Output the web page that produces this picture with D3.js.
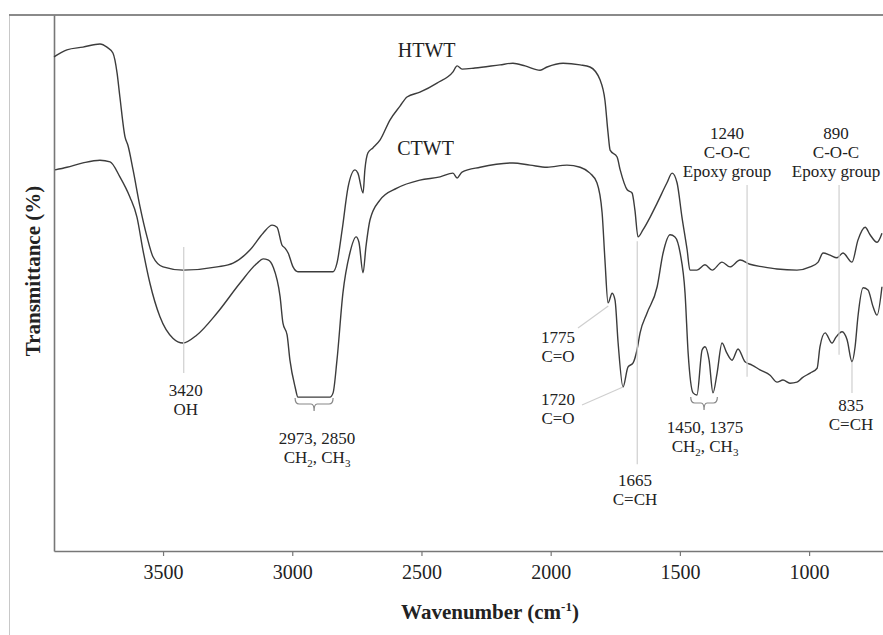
<!DOCTYPE html>
<html>
<head>
<meta charset="utf-8">
<script src="https://cdn.jsdelivr.net/npm/d3@7"></script>
<style>
  body { margin: 0; background: #fff; }
  text { font-family: "Liberation Serif", "Times New Roman", serif; fill: #222; }
</style>
</head>
<body>
<div id="chart"></div>
<script>
// spectra: [wavenumber (cm-1), transmittance (arbitrary %)]
var htwt = [
  [3922, 92.2], [3872, 93.5], [3810, 94.0], [3744, 94.6], [3717, 94.0], [3694, 92.9],
  [3678, 89.2], [3667, 84.7], [3647, 77.2], [3636, 75.7], [3616, 71.1], [3589, 64.2],
  [3562, 58.6], [3539, 54.9], [3500, 53.0], [3423, 52.4], [3291, 53.0], [3229, 53.7],
  [3163, 56.2], [3113, 59.3], [3078, 60.8], [3059, 60.4], [3040, 57.1], [3028, 56.5],
  [3016, 55.6], [2997, 53.0], [2978, 52.1], [2842, 52.1], [2827, 53.7], [2807, 59.9],
  [2784, 67.9], [2757, 71.1], [2746, 70.5], [2726, 66.8], [2719, 71.1], [2707, 74.3],
  [2688, 75.2], [2660, 76.7], [2622, 80.4], [2583, 83.0], [2556, 84.7], [2506, 85.6],
  [2440, 87.3], [2378, 89.4], [2362, 90.5], [2343, 89.9], [2293, 90.1], [2196, 90.7],
  [2146, 91.0], [2099, 90.5], [2041, 89.7], [2014, 90.3], [1952, 91.0], [1886, 90.7],
  [1848, 90.3], [1809, 87.9], [1790, 84.1], [1778, 78.0], [1770, 74.8], [1743, 73.5],
  [1731, 71.1], [1704, 67.4], [1685, 66.8], [1674, 63.6], [1662, 58.6], [1643, 59.9],
  [1615, 62.3], [1588, 64.9], [1550, 68.7], [1530, 70.5], [1511, 68.7], [1492, 62.3],
  [1472, 56.2], [1461, 52.4], [1434, 52.4], [1403, 53.4], [1375, 52.4], [1337, 53.9],
  [1306, 53.0], [1267, 54.3], [1229, 53.5], [1178, 53.0], [1124, 52.6], [1047, 52.4],
  [996, 53.0], [965, 53.9], [946, 55.6], [919, 55.2], [892, 54.7], [869, 55.6],
  [834, 53.9], [811, 58.0], [783, 60.4], [764, 59.0], [737, 57.6], [718, 59.3]
];

var ctwt = [
  [3918, 71.1], [3872, 71.6], [3810, 72.4], [3744, 72.9], [3705, 72.6], [3667, 69.8],
  [3628, 66.0], [3601, 62.3], [3578, 56.2], [3551, 50.0], [3512, 43.7], [3462, 39.7],
  [3423, 38.8], [3369, 40.3], [3291, 44.4], [3202, 50.0], [3136, 53.7], [3113, 54.5],
  [3094, 54.3], [3074, 53.0], [3047, 47.4], [3036, 42.5], [3020, 40.3], [3009, 35.6],
  [2989, 30.6], [2978, 28.7], [2893, 28.7], [2854, 28.7], [2842, 29.5], [2827, 35.6],
  [2804, 48.1], [2777, 55.6], [2753, 58.6], [2742, 57.6], [2726, 51.9], [2715, 56.7],
  [2699, 61.8], [2660, 65.5], [2595, 67.7], [2506, 69.2], [2428, 69.8], [2378, 70.5],
  [2362, 69.6], [2343, 70.7], [2273, 71.6], [2146, 72.4], [2080, 72.0], [2014, 71.6],
  [1937, 72.0], [1886, 71.6], [1848, 70.5], [1821, 68.7], [1801, 63.1], [1790, 54.3],
  [1778, 46.3], [1762, 48.1], [1751, 46.8], [1739, 38.8], [1720, 30.6], [1701, 34.3],
  [1681, 35.1], [1666, 37.5], [1654, 40.7], [1627, 44.4], [1588, 49.3], [1565, 55.6],
  [1538, 59.0], [1519, 58.6], [1499, 55.6], [1480, 48.1], [1468, 36.9], [1449, 29.5],
  [1434, 29.1], [1414, 37.5], [1403, 38.1], [1387, 35.6], [1372, 29.5], [1356, 33.2],
  [1337, 38.8], [1318, 36.9], [1298, 35.6], [1275, 37.7], [1248, 35.3], [1221, 34.7],
  [1190, 33.8], [1151, 32.8], [1124, 31.5], [1101, 31.9], [1074, 31.3], [1047, 31.5],
  [1027, 32.3], [996, 33.2], [969, 34.1], [958, 38.1], [938, 40.7], [911, 38.8],
  [896, 39.9], [872, 40.9], [853, 39.4], [834, 35.3], [822, 38.1], [811, 43.7],
  [791, 49.1], [772, 48.7], [752, 45.5], [737, 44.0], [718, 49.3]
];

var xTicks = [3500, 3000, 2500, 2000, 1500, 1000];
var seriesNames = ['HTWT', 'CTWT'];

var W = 883, H = 635;
var mLeft = 54, mRight = 883, mTop = 15, mBottom = 551;

var svg = d3.select('#chart').append('svg')
  .attr('width', W)
  .attr('height', H);

var x = d3.scaleLinear().domain([3922, 714]).range([mLeft, mRight]);
var y = d3.scaleLinear().domain([0, 100]).range([mBottom, mTop]);

// outer frame bits
svg.append('line')
  .attr('x1', 9.5).attr('x2', 9.5).attr('y1', mTop).attr('y2', H)
  .attr('stroke', '#c8c8c8').attr('stroke-width', 1);
svg.append('line')
  .attr('x1', 9).attr('x2', W).attr('y1', mTop).attr('y2', mTop)
  .attr('stroke', '#8a8a8a').attr('stroke-width', 2);

// axes
var xAxis = svg.append('g')
  .attr('transform', 'translate(0,' + mBottom + ')')
  .call(d3.axisBottom(x).tickValues(xTicks).tickFormat(d3.format('d'))
    .tickSize(5).tickSizeOuter(0).tickPadding(9));
xAxis.select('.domain').attr('stroke', '#777').attr('stroke-width', 1.6);
xAxis.selectAll('.tick line').attr('stroke', '#777').attr('stroke-width', 1.2);
xAxis.selectAll('.tick text')
  .style('font-family', '"Liberation Serif", serif')
  .style('font-size', '20px')
  .attr('fill', '#222');

var yAxis = svg.append('g')
  .attr('transform', 'translate(' + mLeft + ',0)')
  .call(d3.axisLeft(y).tickValues([]).tickSizeOuter(0));
yAxis.select('.domain').attr('stroke', '#777').attr('stroke-width', 1.6);

// axis titles
var xt = svg.append('text')
  .attr('x', 490).attr('y', 619)
  .attr('text-anchor', 'middle')
  .style('font-size', '21px').style('font-weight', 'bold');
xt.append('tspan').text('Wavenumber (cm');
xt.append('tspan').attr('dy', -8).style('font-size', '13px').text('-1');
xt.append('tspan').attr('dy', 8).text(')');

svg.append('text')
  .attr('transform', 'translate(40,271) rotate(-90)')
  .attr('text-anchor', 'middle')
  .style('font-size', '21px').style('font-weight', 'bold')
  .text('Transmittance (%)');

// spectra
var line = d3.line()
  .x(function(d){ return x(d[0]); })
  .y(function(d){ return y(d[1]); })
  .curve(d3.curveMonotoneX);

[htwt, ctwt].forEach(function(s){
  svg.append('path')
    .datum(s)
    .attr('d', line)
    .attr('fill', 'none')
    .attr('stroke', '#3c3c3c')
    .attr('stroke-width', 1.4);
});

// series labels
svg.append('text').attr('x', x(2480)).attr('y', 57)
  .attr('text-anchor', 'middle').style('font-size', '20px').text(seriesNames[0]);
svg.append('text').attr('x', x(2484)).attr('y', 155)
  .attr('text-anchor', 'middle').style('font-size', '20px').text(seriesNames[1]);

// annotation helpers
var grey = '#cfcfcf';
function vline(wn, t1, t2) {
  svg.append('line')
    .attr('x1', x(wn)).attr('x2', x(wn))
    .attr('y1', y(t1)).attr('y2', y(t2))
    .attr('stroke', grey).attr('stroke-width', 1.2);
}
function label(cx, y0, lines) {
  lines.forEach(function(l, i){
    var t = svg.append('text')
      .attr('x', cx).attr('y', y0 + i * 19)
      .attr('text-anchor', 'middle')
      .style('font-size', '17px');
    if (typeof l === 'string') { t.text(l); return; }
    var shift = 0;
    l.forEach(function(part){
      if (typeof part === 'string') {
        t.append('tspan').attr('dy', -shift).text(part);
        shift = 0;
      } else {
        t.append('tspan').attr('dy', 4).style('font-size', '11px').text(part.s);
        shift = 4;
      }
    });
  });
}
function brace(wn1, wn2, yTop) {
  var x1 = x(wn1), x2 = x(wn2), xc = (x1 + x2) / 2;
  var y1 = yTop + 6, y2 = yTop + 13;
  var p = 'M' + x1 + ',' + yTop +
    ' Q' + x1 + ',' + y1 + ' ' + (x1 + 4) + ',' + y1 +
    ' L' + (xc - 3) + ',' + y1 +
    ' Q' + xc + ',' + y1 + ' ' + xc + ',' + y2 +
    ' Q' + xc + ',' + y1 + ' ' + (xc + 3) + ',' + y1 +
    ' L' + (x2 - 4) + ',' + y1 +
    ' Q' + x2 + ',' + y1 + ' ' + x2 + ',' + yTop;
  svg.append('path').attr('d', p)
    .attr('fill', 'none').attr('stroke', '#888').attr('stroke-width', 1.2);
}
function leader(px, py, wn, t) {
  svg.append('line')
    .attr('x1', px).attr('y1', py)
    .attr('x2', x(wn)).attr('y2', y(t))
    .attr('stroke', grey).attr('stroke-width', 1.2);
}

var chLabel = ['CH', {s: '2'}, ', CH', {s: '3'}];

// 3420 OH
vline(3420, 56.7, 33.2);
label(x(3420) + 2, 396, ['3420', 'OH']);

// 2973, 2850
brace(2989, 2842, 398);
label(317, 444, ['2973, 2850', chLabel]);

// 1775 / 1720
leader(578, 328, 1777, 45.7);
label(558, 343, ['1775', 'C=O']);
leader(582, 405, 1720, 30.6);
label(558, 405, ['1720', 'C=O']);

// 1665
vline(1665, 57.8, 16.2);
label(635, 486, ['1665', 'C=CH']);

// 1450, 1375
brace(1458, 1355, 397);
label(705, 433, ['1450, 1375', chLabel]);

// 1240 epoxy
vline(1240, 68.3, 32.5);
label(727, 139, ['1240', 'C-O-C', 'Epoxy group']);

// 890 epoxy
vline(884, 68.3, 36.6);
label(836, 139, ['890', 'C-O-C', 'Epoxy group']);

// 835
vline(834, 35.3, 29.5);
label(851, 411, ['835', 'C=CH']);
</script>
</body>
</html>
